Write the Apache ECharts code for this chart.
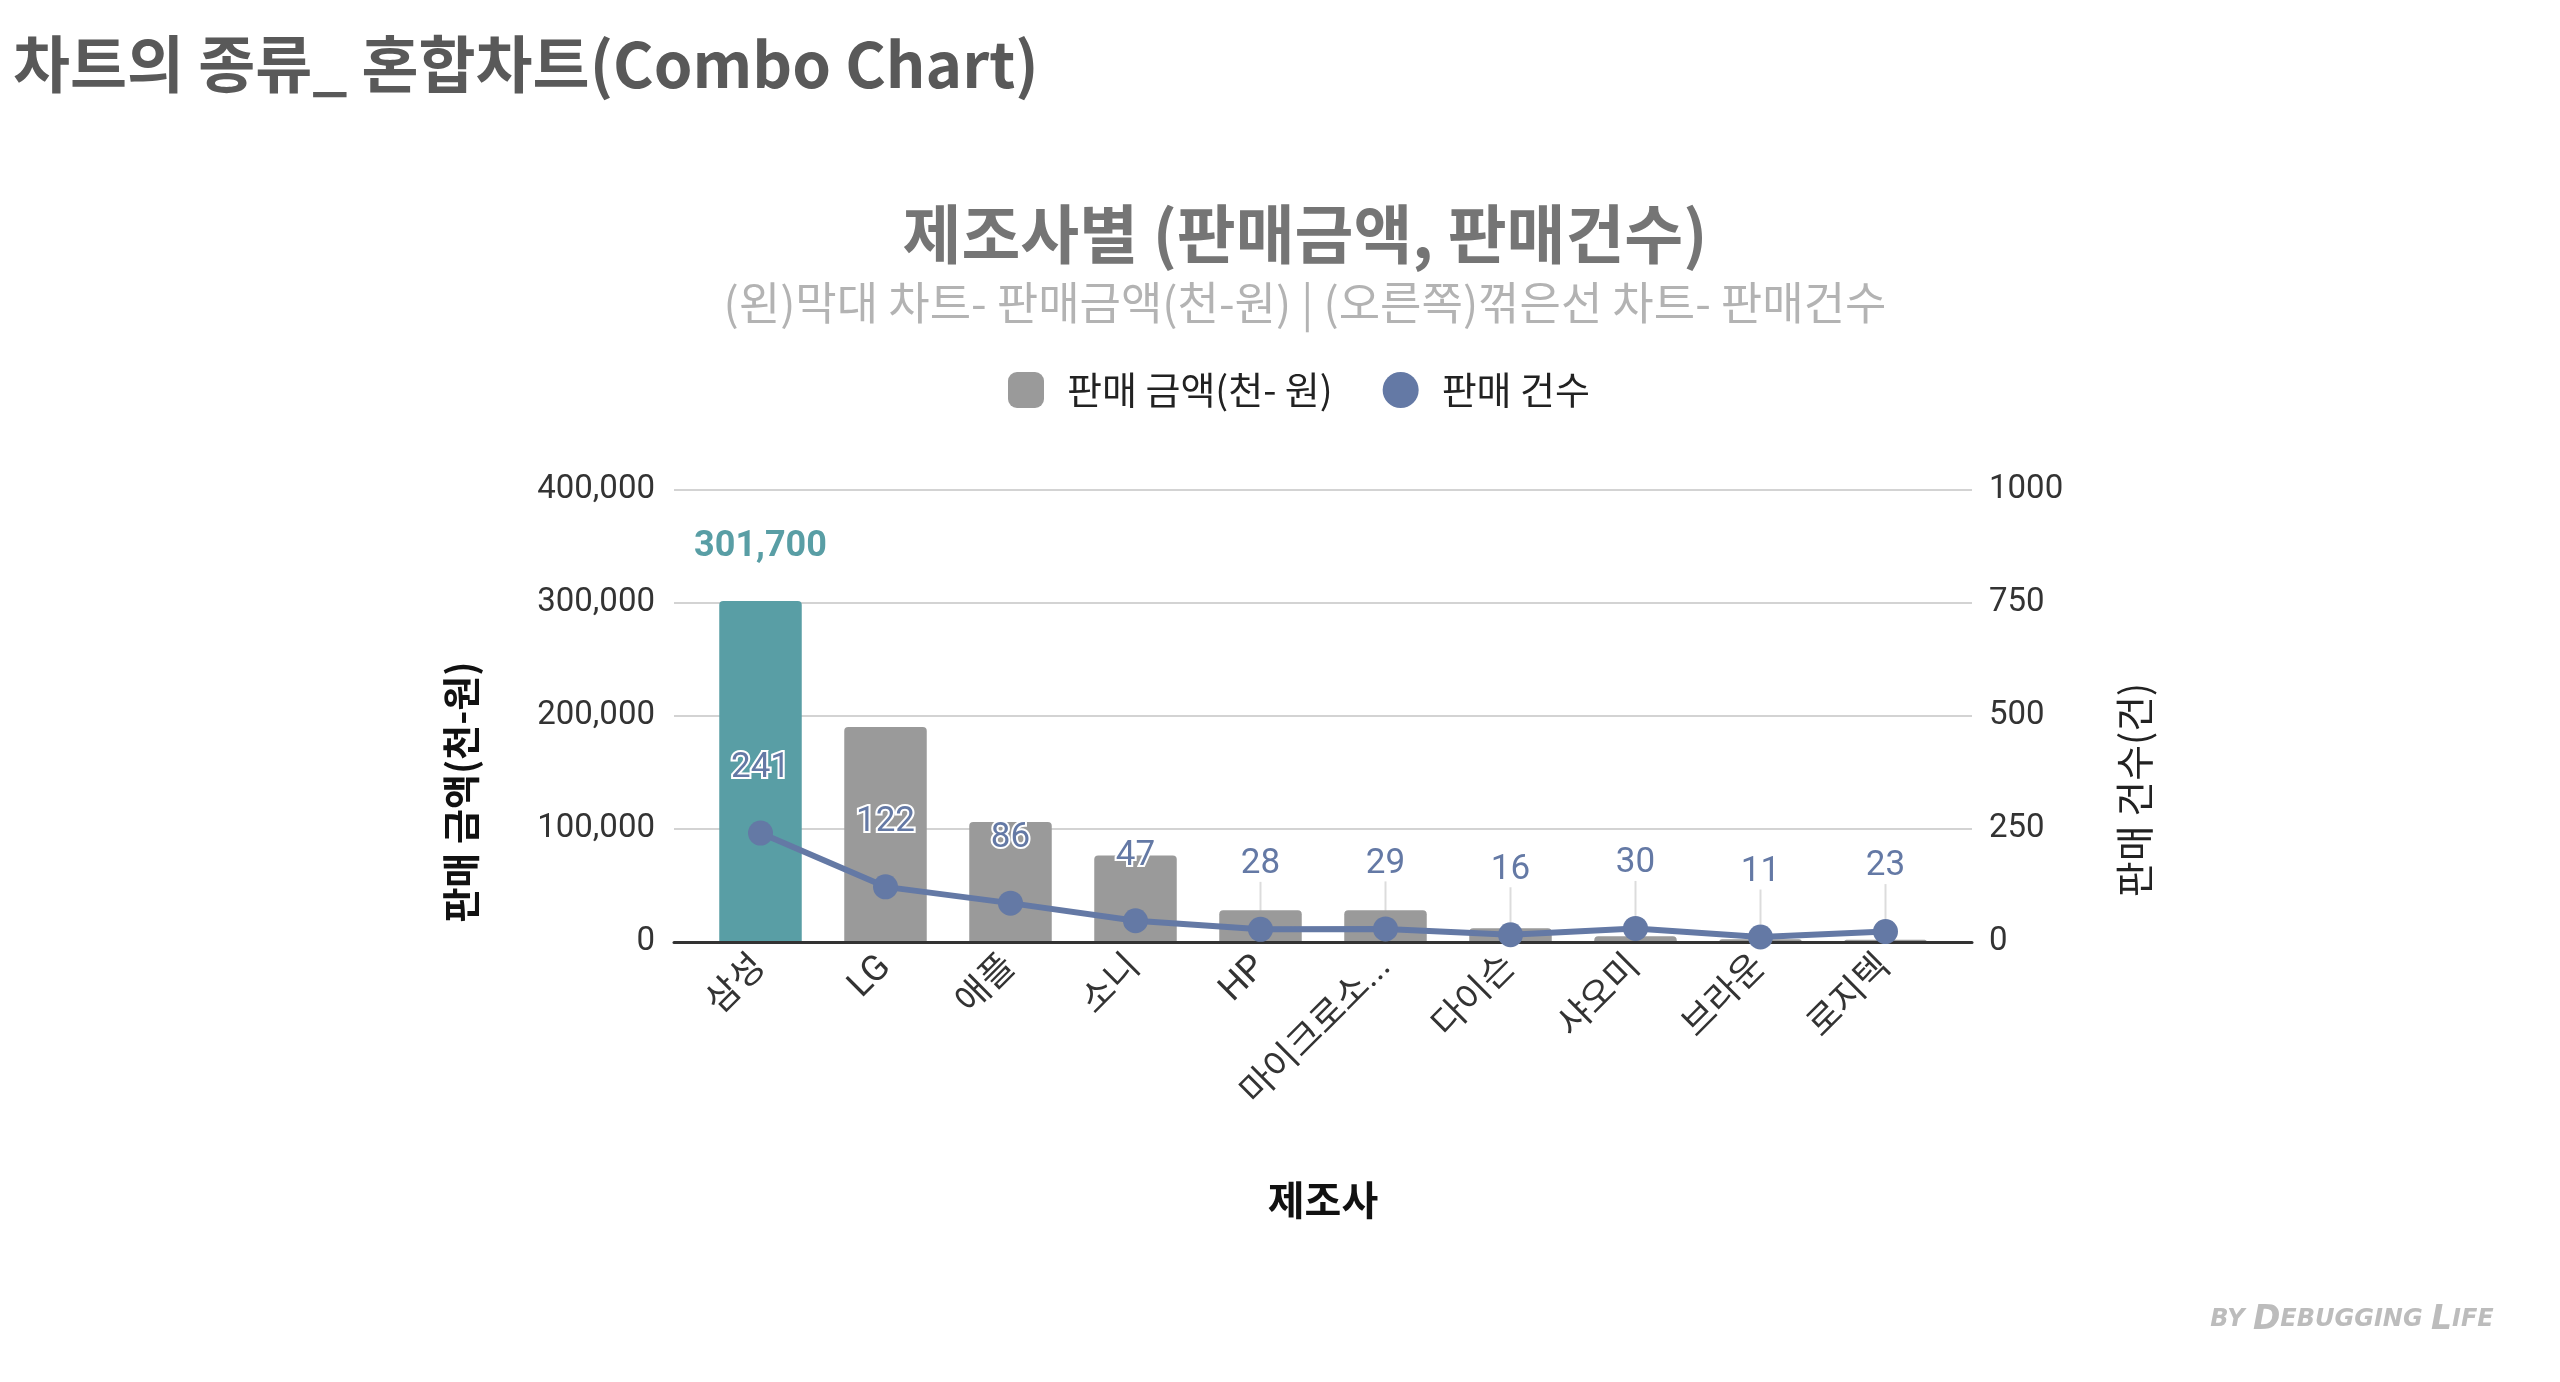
<!DOCTYPE html>
<html>
<head>
<meta charset="utf-8">
<title>차트의 종류_ 혼합차트(Combo Chart)</title>
<script src="https://cdn.jsdelivr.net/npm/echarts@6/dist/echarts.min.js"></script>
<style>
  html, body { margin: 0; padding: 0; background: #fff; }
  #chart { width: 2560px; height: 1382px; }
</style>
</head>
<body>
<div id="chart"></div>
<script>
// data
const categories = ['삼성', 'LG', '애플', '소니', 'HP', '마이크로소프트', '다이슨', '샤오미', '브라운', '로지텍']
const salesAmount = [301700, 190200, 106200, 76500, 28000, 28000, 12200, 5000, 2500, 2000]
const salesCount = [241, 122, 86, 47, 28, 29, 16, 30, 11, 23]
const amountTicks = [0, 100000, 200000, 300000, 400000]
const countTicks = [0, 250, 500, 750, 1000]

const FONT = "Roboto, 'Noto Sans CJK KR', sans-serif"
const KR = "'Noto Sans CJK KR', sans-serif"
const barGrey = '#9a9a9a'
const teal = '#599ea5'
const lineBlue = '#6479a5'

const chart = echarts.init(document.getElementById('chart'))

// 바깥 grid: 눈금선/축 라벨, 안쪽 grid: 막대와 꺾은선 (좌우로 조금 들어가 있음)
const outerGrid = { left: 674, right: 588, top: 490, bottom: 440 }
const innerGrid = { left: 698, right: 612, top: 490, bottom: 440 }

function axisRange(ticks) {
  return {
    type: 'value',
    min: ticks[0],
    max: ticks[ticks.length - 1],
    interval: ticks[1] - ticks[0]
  }
}

const lineLabel = {
  show: true,
  position: 'top',
  distance: 5,
  fontFamily: FONT,
  fontSize: 35,
  color: lineBlue,
  textBorderColor: '#fff',
  textBorderWidth: 4
}

const option = {
  backgroundColor: '#fff',
  animation: false,
  title: [
    {
      text: '제조사별 (판매금액, 판매건수)',
      left: 1300,
      textAlign: 'center',
      top: 197,
      textStyle: { fontFamily: KR, fontSize: 64, fontWeight: 'bold', color: '#757575' }
    },
    {
      text: '(왼)막대 차트- 판매금액(천-원) | (오른쪽)꺾은선 차트- 판매건수',
      left: 1300,
      textAlign: 'center',
      top: 275,
      textStyle: { fontFamily: KR, fontSize: 45, fontWeight: 'normal', color: '#b3b3b3' }
    }
  ],
  legend: {
    left: 1003,
    top: 366,
    itemWidth: 36,
    itemHeight: 36,
    itemGap: 50,
    textStyle: { fontFamily: KR, fontSize: 38, color: '#222', padding: [0, 0, 0, 18] },
    data: [
      { name: '판매 금액(천- 원)', icon: 'roundRect', itemStyle: { color: barGrey } },
      { name: '판매 건수', icon: 'circle', itemStyle: { color: lineBlue } }
    ]
  },
  grid: [outerGrid, innerGrid],
  xAxis: [
    {
      type: 'category',
      gridIndex: 0,
      data: categories,
      axisTick: { show: false },
      axisLabel: { show: false },
      axisLine: { lineStyle: { color: '#333', width: 3 } },
      z: 4
    },
    {
      type: 'category',
      gridIndex: 1,
      data: categories,
      axisTick: { show: false },
      axisLine: { show: false },
      axisLabel: {
        rotate: 45,
        margin: 20,
        fontFamily: FONT,
        fontSize: 36,
        color: '#333',
        formatter: v => v.length > 5 ? v.slice(0, 5) + '...' : v
      }
    }
  ],
  yAxis: [
    Object.assign(axisRange(amountTicks), {
      gridIndex: 0,
      axisLine: { show: false },
      axisTick: { show: false },
      splitLine: { lineStyle: { color: '#d3d3d3', width: 2 } },
      axisLabel: {
        margin: 19,
        fontFamily: FONT,
        fontSize: 33,
        color: '#333',
        formatter: v => v.toLocaleString('en-US')
      }
    }),
    Object.assign(axisRange(countTicks), {
      gridIndex: 0,
      position: 'right',
      axisLine: { show: false },
      axisTick: { show: false },
      splitLine: { show: false },
      axisLabel: { margin: 17, fontFamily: FONT, fontSize: 33, color: '#333', formatter: v => String(v) }
    }),
    Object.assign(axisRange(amountTicks), { gridIndex: 1, show: false, splitLine: { show: false } }),
    Object.assign(axisRange(countTicks), { gridIndex: 1, show: false, splitLine: { show: false } })
  ],
  series: [
    {
      // 라벨 안내선만 그리는 보조 시리즈 (막대 뒤로 가려짐)
      name: 'guide',
      type: 'line',
      xAxisIndex: 1,
      yAxisIndex: 3,
      symbol: 'circle',
      symbolSize: 25,
      lineStyle: { opacity: 0 },
      itemStyle: { opacity: 0 },
      label: Object.assign({}, lineLabel, { color: 'rgba(0,0,0,0)', textBorderWidth: 0 }),
      labelLayout: { dy: -30 },
      labelLine: { show: true, lineStyle: { color: '#dcdcdc', width: 2 } },
      silent: true,
      data: salesCount,
      z: 1
    },
    {
      name: '판매 금액(천- 원)',
      type: 'bar',
      xAxisIndex: 1,
      yAxisIndex: 2,
      barWidth: '66%',
      itemStyle: { color: barGrey, borderRadius: [4, 4, 0, 0] },
      data: salesAmount.map((v, i) => {
        if (i !== 0) return v
        // 삼성 강조
        return {
          value: v,
          itemStyle: { color: teal },
          label: {
            show: true,
            position: 'top',
            distance: 36,
            fontFamily: FONT,
            fontSize: 36,
            fontWeight: 'bold',
            color: teal,
            formatter: p => p.value.toLocaleString('en-US')
          }
        }
      }),
      z: 2
    },
    {
      name: '판매 건수',
      type: 'line',
      xAxisIndex: 1,
      yAxisIndex: 3,
      symbol: 'circle',
      symbolSize: 25,
      color: lineBlue,
      lineStyle: { color: lineBlue, width: 6 },
      itemStyle: { color: lineBlue },
      label: lineLabel,
      labelLayout: { dy: -30 },
      data: salesCount,
      z: 5
    }
  ],
  graphic: [
    {
      type: 'text',
      left: 13,
      top: 33,
      style: { text: '차트의 종류_ 혼합차트(Combo Chart)', font: "bold 62px 'Noto Sans CJK KR'", fill: '#595959' }
    },
    {
      type: 'text',
      x: 461,
      y: 792,
      rotation: Math.PI / 2,
      style: { text: '판매 금액(천-원)', font: "bold 38px 'Noto Sans CJK KR'", fill: '#111', align: 'center', verticalAlign: 'middle' }
    },
    {
      type: 'text',
      x: 2134,
      y: 790,
      rotation: Math.PI / 2,
      style: { text: '판매 건수(건)', font: "39px 'Noto Sans CJK KR'", fill: '#222', align: 'center', verticalAlign: 'middle' }
    },
    {
      type: 'text',
      x: 1323,
      y: 1200,
      style: { text: '제조사', font: "bold 40px 'Noto Sans CJK KR'", fill: '#111', align: 'center', verticalAlign: 'middle' }
    },
    {
      type: 'text',
      x: 2352,
      y: 1320,
      style: {
        text: '{s|BY }{b|D}{s|EBUGGING }{b|L}{s|IFE}',
        align: 'center',
        verticalAlign: 'middle',
        rich: {
          s: { fontFamily: 'DejaVu Sans', fontStyle: 'italic', fontWeight: 'bold', fontSize: 24, fill: '#bcbcbc' },
          b: { fontFamily: 'DejaVu Sans', fontStyle: 'italic', fontWeight: 'bold', fontSize: 33, fill: '#bcbcbc' }
        }
      }
    }
  ]
}

chart.setOption(option)
</script>
</body>
</html>
